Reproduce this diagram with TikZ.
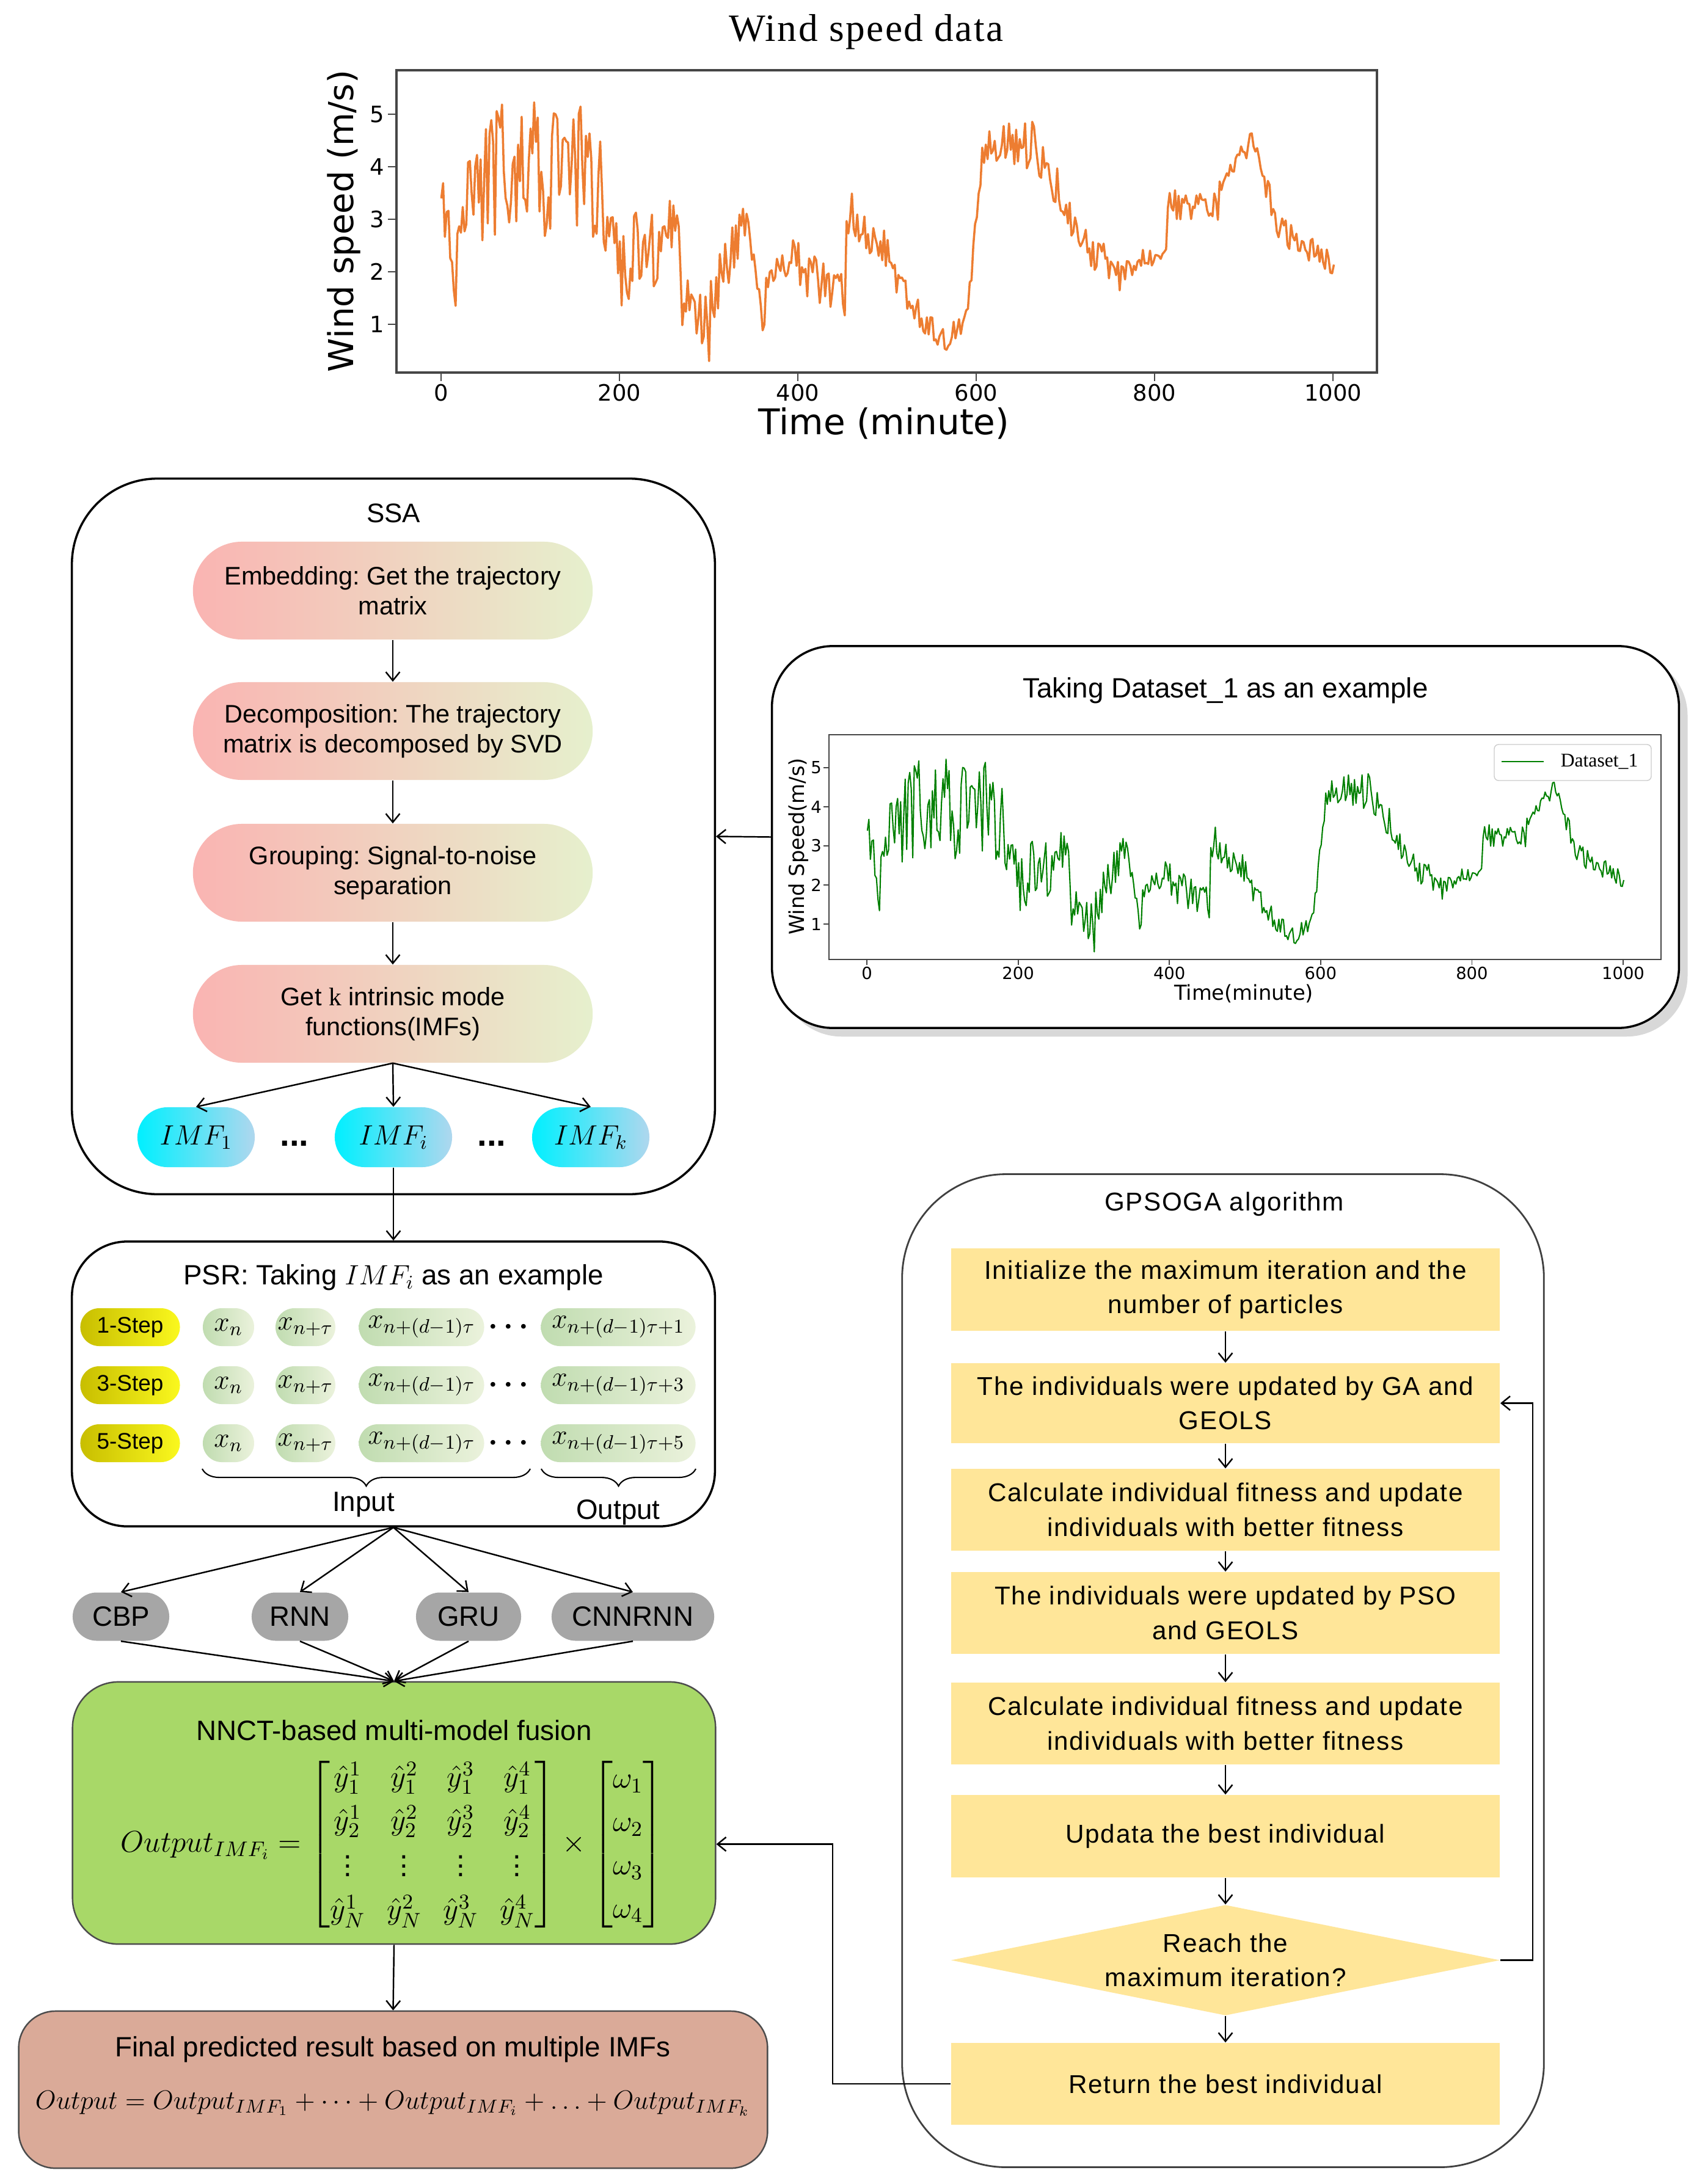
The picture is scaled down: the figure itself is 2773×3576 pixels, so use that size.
\RequirePackage{fix-cm}
\documentclass[tikz,border=0pt]{standalone}
\usepackage{amsmath}
\usepackage{fontspec}
\setmainfont{Liberation Sans}
\newfontfamily\djv{DejaVu Sans}
\newfontfamily\tmsf{Liberation Serif}
\newfontfamily\tmsw[LetterSpace=4]{Liberation Serif}
\newfontfamily\wideft[LetterSpace=4]{Liberation Sans}
\usetikzlibrary{arrows.meta,shapes.geometric,shadows,calc,decorations.pathreplacing}
\frenchspacing

\definecolor{ssaL}{RGB}{250,180,178}
\definecolor{ssaR}{RGB}{230,240,205}
\definecolor{imfL}{RGB}{0,240,255}
\definecolor{imfR}{RGB}{175,215,238}
\definecolor{psrL}{RGB}{192,220,176}
\definecolor{psrR}{RGB}{235,242,220}
\definecolor{stepL}{RGB}{200,190,0}
\definecolor{stepR}{RGB}{250,248,30}
\definecolor{modelgray}{RGB}{166,166,166}
\definecolor{nnctc}{RGB}{168,216,104}
\definecolor{finalc}{RGB}{218,170,152}
\definecolor{gpy}{RGB}{255,230,153}
\definecolor{wsorange}{RGB}{237,125,49}
\definecolor{wsgreen}{RGB}{0,128,0}
\definecolor{axgray}{RGB}{70,70,70}

\newcommand{\drawwind}[1]{%
  \pgfmathsetseed{2024}%
  \draw[#1] (0,3.4) \foreach \ta/\va/\tb/\vb/\am/\nn in {
    0/3.4/10/2.7/0.5/5, 10/2.7/16/1.3/0.25/3, 16/1.6/24/3.9/0.9/4,
    24/3.8/60/3.7/1.3/18, 60/3.9/120/4.0/1.35/30, 120/4.0/178/3.9/1.3/29,
    178/3.4/200/2.0/0.7/11, 200/2.2/268/2.4/1.0/34, 268/1.5/300/0.9/0.6/16,
    300/1.3/340/3.0/0.55/20, 340/3.2/362/0.7/0.35/11, 362/1.9/400/2.4/0.3/19,
    400/2.0/452/1.6/0.45/26, 452/2.4/460/3.5/0.3/4, 460/3.0/500/2.4/0.35/20,
    500/2.1/556/0.7/0.3/28, 556/0.6/590/1.1/0.25/17, 590/1.3/606/4.2/0.25/8,
    606/4.4/666/4.4/0.5/30, 666/4.2/722/2.7/0.45/28, 722/2.4/760/2.0/0.35/19,
    760/2.0/812/2.45/0.2/26, 812/3.3/870/3.2/0.3/29, 870/3.5/910/4.5/0.25/20,
    910/4.4/936/3.0/0.25/13, 936/2.8/1000/2.2/0.3/32}{
      \foreach \i in {1,...,\nn}{ -- ({\ta+\i*(\tb-\ta)/\nn},{\va+(\vb-\va)*\i/\nn+\am*rand}) }
    };%
}

\begin{document}
\begin{tikzpicture}[x=0.01cm,y=-0.01cm,
  arr/.style={draw=black, line width=0.7pt, -{Straight Barb[length=4pt,width=6.5pt]}},
  cont/.style={draw=black, line width=1pt, inner sep=0pt},
  ssastep/.style={minimum width=6.54cm, minimum height=1.6cm, rounded corners=0.8cm, left color=ssaL, right color=ssaR, align=center, inner sep=0pt, font=\fontsize{11.8}{13.8}\selectfont},
  imfnode/.style={minimum width=1.92cm, minimum height=0.98cm, rounded corners=0.49cm, left color=imfL, right color=imfR, inner sep=0pt, font=\fontsize{13}{15}\selectfont},
  stepnode/.style={minimum width=1.63cm, minimum height=0.62cm, rounded corners=0.31cm, left color=stepL, right color=stepR, inner sep=0pt, font=\fontsize{10.5}{12}\selectfont},
  xnode/.style={minimum height=0.62cm, rounded corners=0.31cm, left color=psrL, right color=psrR, inner sep=0pt, font=\fontsize{13}{15}\selectfont},
  model/.style={minimum height=0.79cm, rounded corners=0.395cm, fill=modelgray, inner sep=0pt, font=\fontsize{13}{15}\selectfont},
  gbox/.style={fill=gpy, minimum width=8.98cm, align=center, inner sep=0pt, font=\wideft\fontsize{12}{16}\selectfont},
  tickA/.style={font=\djv\fontsize{10.5}{12}\selectfont},
  tickB/.style={font=\djv\fontsize{7.8}{9}\selectfont},
]
\fill[white] (0,0) rectangle (2773,3576);
\useasboundingbox (0,0) rectangle (2773,3576);

% ---------- top chart ----------
\node[font=\tmsw\fontsize{18}{20}\selectfont] (t1) at (1418,52) {Wind speed data};
\begin{scope}[shift={(7.22cm,-6.17cm)},x=0.0146cm,y=0.86cm]
  \drawwind{wsorange, line width=1pt, line join=round}
\end{scope}
\draw[axgray, line width=1pt] (649,115) rectangle (2254,610);
\foreach \t in {0,200,...,1000}{
  \draw[axgray, line width=0.8pt] ({722+1.46*\t},610) -- ({722+1.46*\t},624);
  \node[tickA] (xa\t) at ({722+1.46*\t},643) {\t};
}
\foreach \v in {1,...,5}{
  \draw[axgray, line width=0.8pt] (649,{617-86*\v}) -- (635,{617-86*\v});
  \node[tickA] (ya\v) at (617,{617-86*\v}) {\v};
}
\node[rotate=90, font=\djv\fontsize{16}{18}\selectfont] (yl1) at (563,362) {Wind speed (m/s)};
\node[font=\djv\fontsize{16.5}{18}\selectfont] (xl1) at (1447,693) {Time (minute)};

% ---------- dataset box ----------
\node[draw=black, line width=1pt, fill=white, rounded corners=1.0cm, minimum width=14.84cm, minimum height=6.25cm, inner sep=0pt,
  drop shadow={shadow xshift=4pt, shadow yshift=-4pt, opacity=0.3}] (ds) at (2006,1370.5) {};
\node[font=\fontsize{13}{15}\selectfont] (dst) at (2006,1131) {Taking Dataset\_1 as an example};
\begin{scope}[shift={(14.19cm,-15.77cm)},x=0.01238cm,y=0.64cm]
  \drawwind{wsgreen, line width=0.6pt, line join=round}
\end{scope}
\draw[axgray, line width=0.6pt] (1357,1203) rectangle (2719,1571);
\foreach \t in {0,200,...,1000}{
  \draw[axgray, line width=0.5pt] ({1419+1.238*\t},1571) -- ({1419+1.238*\t},1580);
  \node[tickB] (xb\t) at ({1419+1.238*\t},1593) {\t};
}
\foreach \v in {1,...,5}{
  \draw[axgray, line width=0.5pt] (1357,{1577-64*\v}) -- (1348,{1577-64*\v});
  \node[tickB] (yb\v) at (1336,{1577-64*\v}) {\v};
}
\node[rotate=90, font=\djv\fontsize{9.6}{11}\selectfont] (yl2) at (1307,1386) {Wind Speed(m/s)};
\node[font=\djv\fontsize{9.6}{11}\selectfont] (xl2) at (2036,1627) {Time(minute)};
\draw[black!20, fill=white, rounded corners=2pt] (2446,1219) rectangle (2703,1278);
\draw[wsgreen, line width=0.8pt] (2458,1247) -- (2527,1247);
\node[font=\tmsf\fontsize{9}{10}\selectfont] (leg) at (2618,1247) {Dataset\_1};

% ---------- SSA ----------
\node[cont, rounded corners=1.4cm, minimum width=10.52cm, minimum height=11.71cm] (ssa) at (644,1369.5) {};
\node[font=\fontsize{12.5}{14}\selectfont] (ssat) at (644,840) {SSA};
\node[ssastep] (s1) at (643,967) {Embedding: Get the trajectory\\matrix};
\node[ssastep] (s2) at (643,1197) {Decomposition: The trajectory\\matrix is decomposed by SVD};
\node[ssastep] (s3) at (643,1429) {Grouping: Signal-to-noise\\separation};
\node[ssastep] (s4) at (643,1660) {Get {\tmsf k} intrinsic mode\\functions(IMFs)};
\node[imfnode] (imf1) at (321,1862) {$IMF_1$};
\node[imfnode] (imfi) at (644,1862) {$IMF_i$};
\node[imfnode] (imfk) at (967,1862) {$IMF_k$};
\node[font=\fontsize{16}{16}\selectfont\bfseries] (dA) at (482,1872) {...};
\node[font=\fontsize{16}{16}\selectfont\bfseries] (dB) at (805,1872) {...};
\draw[arr] (s1) -- (s2);
\draw[arr] (s2) -- (s3);
\draw[arr] (s3) -- (s4);
\draw[arr] (s4.south) -- (imf1.north);
\draw[arr] (s4.south) -- (imfi.north);
\draw[arr] (s4.south) -- (imfk.north);
\draw[arr] (ds.west) -- (ssa.east);

% ---------- PSR ----------
\node[cont, rounded corners=0.9cm, minimum width=10.52cm, minimum height=4.66cm] (psr) at (644,2266) {};
\draw[arr] (imfi.south) -- (psr.north);
\node[font=\fontsize{13}{15}\selectfont] (psrt) at (644,2092) {PSR: Taking $IMF_i$ as an example};
\foreach \r/\yy/\sfx in {1/2173/1, 3/2268/3, 5/2363/5}{
  \node[stepnode] (st\r) at (213,\yy) {\r-Step};
  \node[xnode, minimum width=0.84cm] (xa\r) at (374,\yy) {$x_n$};
  \node[xnode, minimum width=0.98cm] (xb\r) at (500,\yy) {$x_{n+\tau}$};
  \node[xnode, minimum width=2.05cm] (xc\r) at (690,\yy) {$x_{n+(d-1)\tau}$};
  \node[font=\fontsize{14}{16}\selectfont] (xd\r) at (837,\yy) {$\boldsymbol{\cdots}$};
  \node[xnode, minimum width=2.53cm] (xo\r) at (1012,\yy) {$x_{n+(d-1)\tau+\sfx}$};
}
\draw[line width=0.6pt, decorate, decoration={brace, mirror, amplitude=8pt}] (331,2405) -- (868,2405);
\draw[line width=0.6pt, decorate, decoration={brace, mirror, amplitude=8pt}] (886,2405) -- (1139,2405);
\node[font=\fontsize{13}{15}\selectfont] (inl) at (595,2463) {Input};
\node[font=\fontsize{13}{15}\selectfont] (outl) at (1012,2476) {Output};

% ---------- models ----------
\node[model, minimum width=1.58cm] (cbp) at (198,2647) {CBP};
\node[model, minimum width=1.58cm] (rnn) at (491,2647) {RNN};
\node[model, minimum width=1.72cm] (gru) at (767,2647) {GRU};
\node[model, minimum width=2.66cm] (cnr) at (1036,2647) {CNNRNN};
\foreach \m in {cbp,rnn,gru,cnr}{ \draw[arr] (psr.south) -- (\m.north); }

% ---------- NNCT ----------
\node[draw=black!70, line width=0.7pt, fill=nnctc, rounded corners=0.75cm, minimum width=10.52cm, minimum height=4.29cm, inner sep=0pt] (nnct) at (645,2968.5) {};
\foreach \m in {cbp,rnn,gru,cnr}{ \draw[arr] (\m.south) -- (nnct.north); }
\node[font=\fontsize{13}{15}\selectfont] (nnctt) at (645,2833) {NNCT-based multi-model fusion};
\node[font=\fontsize{14}{18}\selectfont] (eq1) at (642,3020) {\renewcommand{\arraystretch}{1.12}$Output_{IMF_i}=\begin{bmatrix}\hat y^1_1 & \hat y^2_1 & \hat y^3_1 & \hat y^4_1\\ \hat y^1_2 & \hat y^2_2 & \hat y^3_2 & \hat y^4_2\\ \vdots & \vdots & \vdots & \vdots\\ \hat y^1_N & \hat y^2_N & \hat y^3_N & \hat y^4_N\end{bmatrix}\times\begin{bmatrix}\omega_1\\ \omega_2\\ \omega_3\\ \omega_4\end{bmatrix}$};

% ---------- Final ----------
\node[draw=black!70, line width=0.7pt, fill=finalc, rounded corners=0.6cm, minimum width=12.25cm, minimum height=2.57cm, inner sep=0pt] (fin) at (643.5,3421.5) {};
\draw[arr] (nnct.south) -- (fin.north);
\node[font=\fontsize{13}{15}\selectfont] (fint) at (643,3356) {Final predicted result based on multiple IMFs};
\node[font=\fontsize{12.4}{15}\selectfont] (eq2) at (643,3444) {$Output=Output_{IMF_1}+\cdots+Output_{IMF_i}+\ldots+Output_{IMF_k}$};

% ---------- GPSOGA ----------
\node[draw=black!75, line width=0.8pt, rounded corners=1.7cm, minimum width=10.5cm, minimum height=16.25cm, inner sep=0pt] (gps) at (2002,2735.5) {};
\node[font=\wideft\fontsize{12}{14}\selectfont] (gpst) at (2004,1972) {GPSOGA algorithm};
\node[gbox, minimum height=1.35cm] (b1) at (2006,2111.5) {Initialize the maximum iteration and the\\number of particles};
\node[gbox, minimum height=1.31cm] (b2) at (2006,2297.5) {The individuals were updated by GA and\\GEOLS};
\node[gbox, minimum height=1.34cm] (b3) at (2006,2472) {Calculate individual fitness and update\\individuals with better fitness};
\node[gbox, minimum height=1.34cm] (b4) at (2006,2641) {The individuals were updated by PSO\\and GEOLS};
\node[gbox, minimum height=1.34cm] (b5) at (2006,2822) {Calculate individual fitness and update\\individuals with better fitness};
\node[gbox, minimum height=1.35cm] (b6) at (2006,3006.5) {Updata the best individual};
\node[gbox, shape=diamond, shape aspect=4.96, minimum height=1.81cm] (dia) at (2006,3209.5) {Reach the\\maximum iteration?};
\node[gbox, minimum height=1.34cm] (b7) at (2006,3412) {Return the best individual};
\draw[arr] (b1) -- (b2);
\draw[arr] (b2) -- (b3);
\draw[arr] (b3) -- (b4);
\draw[arr] (b4) -- (b5);
\draw[arr] (b5) -- (b6);
\draw[arr] (b6) -- (dia);
\draw[arr] (dia) -- (b7);
\draw[arr] (dia.east) -- ++(53,0) |- (b2.east);
\coordinate (nin) at ($(nnct.east)+(0,51)$);
\draw[arr] (b7.west) -- ++(-193,0) |- (nin);
\end{tikzpicture}
\end{document}
